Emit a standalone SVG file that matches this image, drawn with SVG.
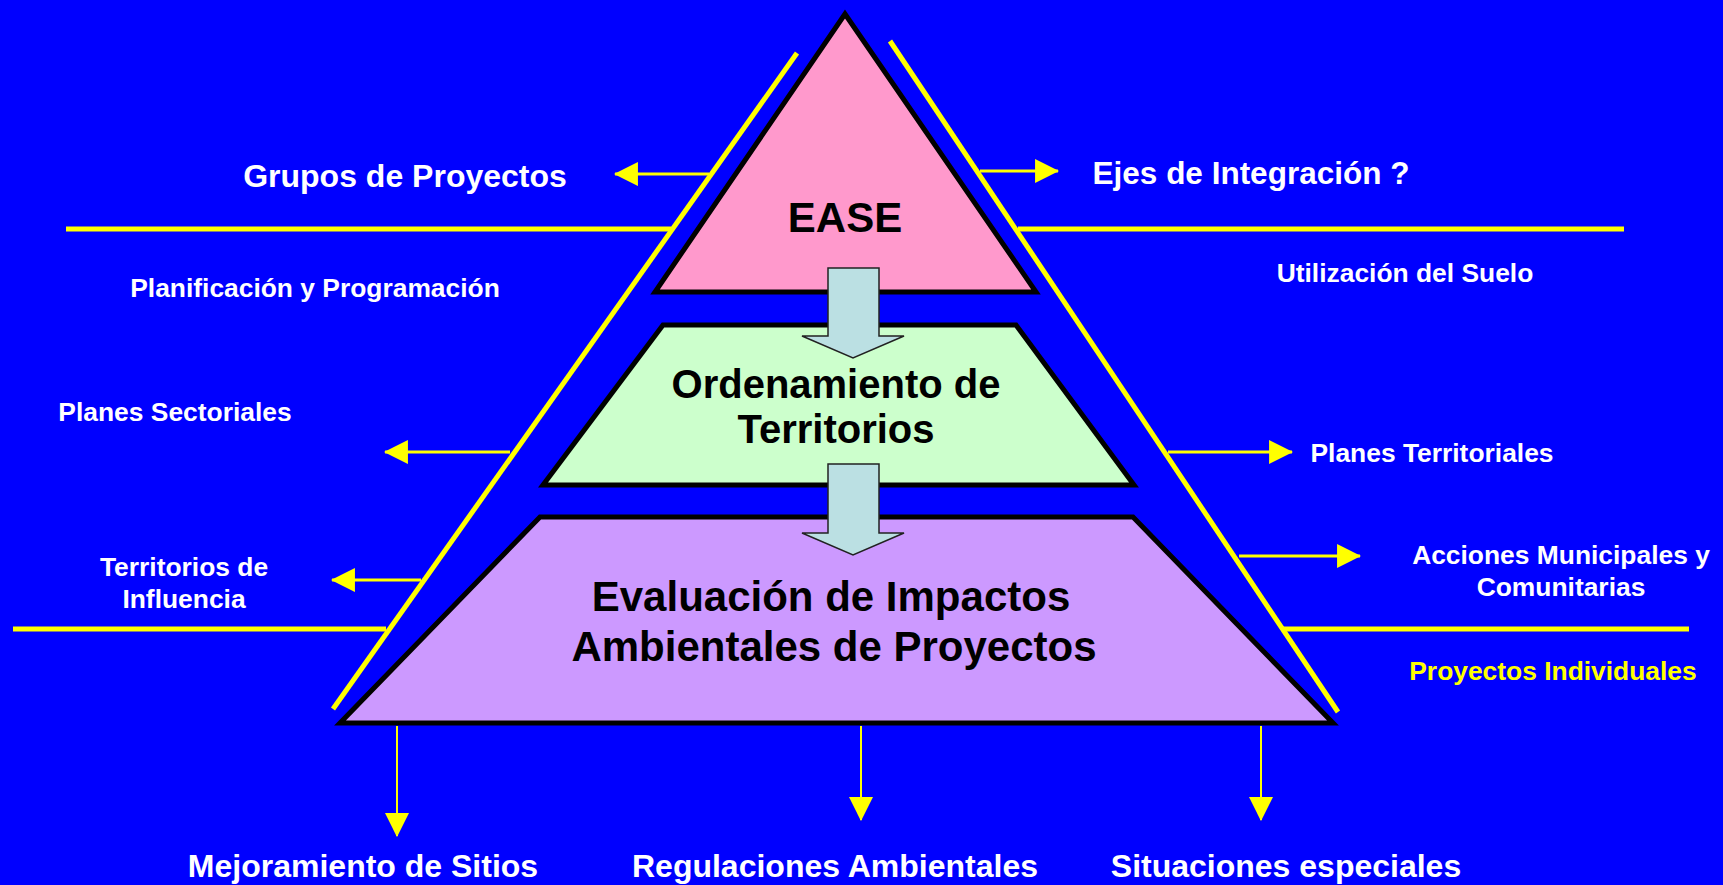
<svg xmlns="http://www.w3.org/2000/svg" width="1723" height="885" viewBox="0 0 1723 885">
<style>
.t{font-family:"Liberation Sans",Arial,sans-serif;font-weight:bold;}
.w{fill:#FFFFFF;}
.k{fill:#000000;}
.y{fill:#FFFF00;}
.shape{stroke:#000000;stroke-width:5;stroke-linejoin:miter;}
.block{fill:#BBE0E3;stroke:#222222;stroke-width:1.5;}
.guide{stroke:#FFFF00;fill:none;}
.side{stroke:#FFFF00;stroke-width:3;fill:none;}
.down{stroke:#FFFF00;stroke-width:2;fill:none;}
</style>
<defs>
<marker id="ah" markerUnits="userSpaceOnUse" markerWidth="24" markerHeight="24" viewBox="0 0 22 22" refX="21" refY="11" orient="auto">
<polygon points="0,0 22,11 0,22" fill="#FFFF00"/>
</marker>
</defs>
<rect x="0" y="0" width="1723" height="885" fill="#0000FF"/>

<g id="guides">
<line class="guide" stroke-width="5" x1="797" y1="53" x2="333" y2="709"/>
<line class="guide" stroke-width="5" x1="890" y1="41" x2="1338" y2="712"/>
<line class="guide" stroke-width="5" x1="66" y1="229" x2="671" y2="229"/>
<line class="guide" stroke-width="5" x1="1018" y1="229" x2="1624" y2="229"/>
<line class="guide" stroke-width="5" x1="13" y1="629" x2="386" y2="629"/>
<line class="guide" stroke-width="5" x1="1282" y1="629" x2="1689" y2="629"/>
</g>

<g id="node-ease">
<polygon class="shape" fill="#FF99CC" points="845,14 1036,292 655,292"/>
<text class="t k" x="845" y="232" font-size="42" text-anchor="middle">EASE</text>
</g>

<g id="node-ordenamiento">
<polygon class="shape" fill="#CCFFCC" points="663,325 1016,325 1134,485 543,485"/>
<text class="t k" font-size="40" text-anchor="middle"><tspan x="836" y="398">Ordenamiento de</tspan><tspan x="836" y="443">Territorios</tspan></text>
</g>

<g id="node-evaluacion">
<polygon class="shape" fill="#CC99FF" points="540,517 1133,517 1333,723 340,723"/>
<text class="t k" font-size="42" text-anchor="middle"><tspan x="831" y="611">Evaluación de Impactos</tspan><tspan x="834" y="661">Ambientales de Proyectos</tspan></text>
</g>

<g id="connectors">
<polygon class="block" points="828,268 879,268 879,336 904,336 853,358 802,336 828,336"/>
<polygon class="block" points="828,464 879,464 879,533 904,533 853,555 802,533 828,533"/>
<line class="side" x1="709" y1="174" x2="615" y2="174" marker-end="url(#ah)"/>
<line class="side" x1="980" y1="171" x2="1058" y2="171" marker-end="url(#ah)"/>
<line class="side" x1="510" y1="452" x2="385" y2="452" marker-end="url(#ah)"/>
<line class="side" x1="421" y1="580" x2="332" y2="580" marker-end="url(#ah)"/>
<line class="side" x1="1168" y1="452" x2="1292" y2="452" marker-end="url(#ah)"/>
<line class="side" x1="1239" y1="556" x2="1360" y2="556" marker-end="url(#ah)"/>
<line class="down" x1="397" y1="726" x2="397" y2="836" marker-end="url(#ah)"/>
<line class="down" x1="861" y1="726" x2="861" y2="820" marker-end="url(#ah)"/>
<line class="down" x1="1261" y1="726" x2="1261" y2="820" marker-end="url(#ah)"/>
</g>

<g id="node-grupos"><text class="t w" x="405" y="187" font-size="32" text-anchor="middle">Grupos de Proyectos</text></g>
<g id="node-ejes"><text class="t w" x="1251" y="184" font-size="31.5" text-anchor="middle">Ejes de Integración ?</text></g>
<g id="node-planificacion"><text class="t w" x="315" y="297" font-size="26.4" text-anchor="middle">Planificación y Programación</text></g>
<g id="node-utilizacion"><text class="t w" x="1405" y="282" font-size="26.4" text-anchor="middle">Utilización del Suelo</text></g>
<g id="node-sectoriales"><text class="t w" x="175" y="421" font-size="26.4" text-anchor="middle">Planes Sectoriales</text></g>
<g id="node-territoriales"><text class="t w" x="1432" y="462" font-size="26.4" text-anchor="middle">Planes Territoriales</text></g>
<g id="node-influencia"><text class="t w" font-size="26.4" text-anchor="middle"><tspan x="184" y="576">Territorios de</tspan><tspan x="184" y="608">Influencia</tspan></text></g>
<g id="node-acciones"><text class="t w" font-size="26.4" text-anchor="middle"><tspan x="1561" y="564">Acciones Municipales y</tspan><tspan x="1561" y="596">Comunitarias</tspan></text></g>
<g id="node-individuales"><text class="t y" x="1553" y="680" font-size="26.4" text-anchor="middle">Proyectos Individuales</text></g>
<g id="node-mejoramiento"><text class="t w" x="363" y="877" font-size="32" text-anchor="middle">Mejoramiento de Sitios</text></g>
<g id="node-regulaciones"><text class="t w" x="835" y="877" font-size="32" text-anchor="middle">Regulaciones Ambientales</text></g>
<g id="node-situaciones"><text class="t w" x="1286" y="877" font-size="32" text-anchor="middle">Situaciones especiales</text></g>
</svg>
